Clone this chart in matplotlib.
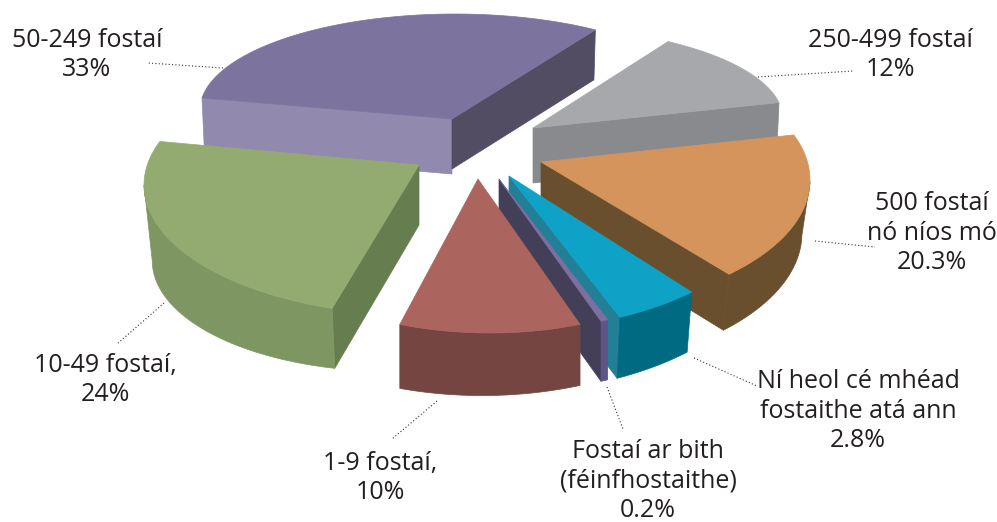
import numpy as np
import matplotlib
matplotlib.use("Agg")
import matplotlib.pyplot as plt
from matplotlib.patches import Polygon

# --- chart data ---
categories = ["250-499 fostaí", "500 fostaí nó níos mó", "Ní heol cé mhéad fostaithe atá ann",
              "Fostaí ar bith (féinfhostaithe)", "1-9 fostaí", "10-49 fostaí", "50-249 fostaí"]
values = [12, 20.3, 2.8, 0.2, 10, 24, 33]
label_texts = ["250-499 fostaí\n12%", "500 fostaí\nnó níos mó\n20.3%",
               "Ní heol cé mhéad\nfostaithe atá ann\n2.8%",
               "Fostaí ar bith\n(féinfhostaithe)\n0.2%", "1-9 fostaí,\n10%",
               "10-49 fostaí,\n24%", "50-249 fostaí\n33%"]

# --- styling / layout, one row per slice ---
top_cols  = ["#A7A8AB", "#D5945B", "#0FA2C7", "#7D6F9F", "#AB645E", "#93AB70", "#7D739F"]
arc_cols  = ["#898A8D", "#694F2E", "#006A82", "#5E5488", "#744541", "#7E9661", "#7D739F"]
start_cols = [None, None, None, None, None, "#667D4F", "#9289AE"]
end_cols   = ["#898A8D", "#694F2E", "#227F96", "#443F59", None, None, "#524D63"]
# apex of the exploded slice
apex = [(533, 128), (541, 162), (509, 176), (499, 179), (478, 179), (419, 165), (452, 119)]
# projected ellipse of the slice: centre and radii
ell = [(533, 119, 250, 92), (540, 180, 270, 132), (509, 180, 275, 150), (499, 182, 275, 150),
       (490, 183, 270, 150), (419, 185, 275, 130), (455, 110, 255, 96)]
# perspective correction to the slice's boundaries (deg)
shift = [(-0.7, -5.5), (4.2, 10.1), (7.3, -0.7), (-1.2, -2.0), (-4.3, -8.1), (-7.0, -13.7), (-1.3, -1.4)]
# extrusion at slice's start and end; x shrink of bottom face
depth = [(55, 55), (52, 56), (60, 61), (60, 60), (61, 64), (60, 80), (55, 50)]
shrink = [0.99, 0.97, 0.975, 1.0, 1.0, 0.97, 0.99]
START_ANGLE = 58.0

label_pos = [(890, 55), (932, 233), (858, 411), (648, 481), (380, 478), (105, 380), (87, 55)]
leader_from = [(758, 77), (815, 241), (694, 358), (607, 387), (437, 401), (164, 303), (223, 68)]
leader_to = [(853, 71), (875, 247), (757, 386), (623, 429), (392, 439), (117, 344), (148, 63)]

fig = plt.figure(figsize=(9.97, 5.22), dpi=100)
ax = fig.add_axes([0, 0, 1, 1])
ax.set_xlim(0, 997)
ax.set_ylim(522, 0)
ax.axis("off")

total = sum(values)
bounds = START_ANGLE - np.concatenate([[0], np.cumsum(values)]) * 360.0 / total


def ell_pts(i, th, bottom=False):
    ex, ey, rx, ry = ell[i]
    t = np.radians(th)
    x = ex + rx * np.cos(t)
    y = ey - ry * np.sin(t)
    if bottom:
        a0, a1 = bounds[i] + shift[i][0], bounds[i + 1] + shift[i][1]
        f = (th - a0) / (a1 - a0)
        y = y + depth[i][0] + f * (depth[i][1] - depth[i][0])
        x = apex[i][0] + shrink[i] * (x - apex[i][0])
    return np.column_stack([x, y])


def poly(pts, col, z):
    ax.add_patch(Polygon(pts, closed=True, facecolor=col, edgecolor=col, linewidth=0.5, zorder=z))


order = [6, 0, 1, 5, 2, 3, 4]
for z, i in enumerate(order):
    a0, a1 = bounds[i] + shift[i][0], bounds[i + 1] + shift[i][1]
    ang = np.linspace(a0, a1, 80)
    ap = np.array(apex[i], float)
    ap_bot0 = ap + [0, depth[i][0]]
    ap_bot1 = ap + [0, depth[i][1]]
    if start_cols[i]:
        p0, b0 = ell_pts(i, np.array([a0])), ell_pts(i, np.array([a0]), True)
        poly(np.vstack([ap, p0, b0, ap_bot0]), start_cols[i], z * 3 + 1)
    if end_cols[i]:
        p1, b1 = ell_pts(i, np.array([a1])), ell_pts(i, np.array([a1]), True)
        poly(np.vstack([ap, p1, b1, ap_bot1]), end_cols[i], z * 3 + 1)
    # outer wall: only the part of the rim that faces the viewer
    s = np.sin(np.radians(ang))
    front = ang[s <= 0]
    if len(front) > 1:
        poly(np.vstack([ell_pts(i, front), ell_pts(i, front[::-1], True)]), arc_cols[i], z * 3 + 2)
    poly(np.vstack([ap, ell_pts(i, ang)]), top_cols[i], z * 3 + 3)

for (x0, y0), (x1, y1) in zip(leader_from, leader_to):
    ax.plot([x0, x1], [y0, y1], color="#333333", lw=0.8, ls=(0, (1, 2)), zorder=40)

for txt, (x, y) in zip(label_texts, label_pos):
    ax.text(x, y, txt, ha="center", va="center", fontsize=18, family="Open Sans",
            color="#231F20", linespacing=1.25, zorder=50)

fig.savefig("out.png", dpi=100)
